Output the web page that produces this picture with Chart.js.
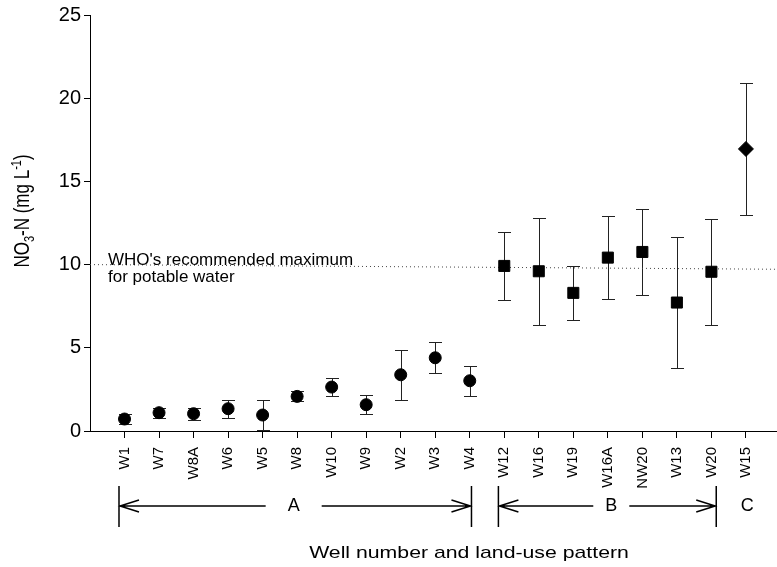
<!DOCTYPE html>
<html>
<head>
<meta charset="utf-8">
<script src="https://cdn.jsdelivr.net/npm/chart.js@4"></script>
<style>
  html, body { margin: 0; padding: 0; background: #fff; }
  canvas { display: block; }
</style>
</head>
<body>
<canvas id="wells" width="777" height="567"></canvas>
<script>
// Wells in plotting order
const wells = ['W1', 'W7', 'W8A', 'W6', 'W5', 'W8', 'W10', 'W9', 'W2', 'W3', 'W4',
               'W12', 'W16', 'W19', 'W16A', 'NW20', 'W13', 'W20', 'W15'];

// NO3-N means and +/- error per land-use group (mg/L)
const meanA = [0.72, 1.1, 1.04, 1.34, 0.96, 2.08, 2.64, 1.58, 3.38, 4.4, 3.02];
const errA  = [0.3, 0.3, 0.37, 0.55, 0.9, 0.3, 0.53, 0.58, 1.5, 0.93, 0.9];
const meanB = [9.92, 9.6, 8.3, 10.42, 10.76, 7.72, 9.57];
const errB  = [2.05, 3.2, 1.63, 2.5, 2.57, 3.93, 3.19];
const meanC = [16.95];
const errC  = [3.95];

// WHO guideline line ends
const whoLine = [10, 9.72];

const yTicks = [0, 5, 10, 15, 20, 25];

const FONT = "'Liberation Sans', Arial, Helvetica, sans-serif";

function toPoints(values, start) {
  return values.map((v, i) => ({ x: start + i + 1, y: v }));
}

// error bars, annotations, group brackets and axis titles
const extras = {
  id: 'extras',
  beforeDatasetsDraw(chart) {
    const ctx = chart.ctx;
    const xs = chart.scales.x, ys = chart.scales.y;
    ctx.save();
    ctx.strokeStyle = '#222';
    ctx.lineWidth = 1;
    chart.data.datasets.forEach(ds => {
      if (!ds.errors) return;
      ds.data.forEach((p, i) => {
        const px = Math.round(xs.getPixelForValue(p.x)) + 0.5;
        const top = Math.round(ys.getPixelForValue(p.y + ds.errors[i])) + 0.5;
        const bot = Math.round(ys.getPixelForValue(p.y - ds.errors[i])) + 0.5;
        ctx.beginPath();
        ctx.moveTo(px, top); ctx.lineTo(px, bot);
        ctx.moveTo(px - 6.5, top); ctx.lineTo(px + 6.5, top);
        ctx.moveTo(px - 6.5, bot); ctx.lineTo(px + 6.5, bot);
        ctx.stroke();
      });
    });
    ctx.restore();
  },
  afterDraw(chart) {
    const ctx = chart.ctx;
    const xs = chart.scales.x;
    ctx.save();
    ctx.fillStyle = '#000';
    ctx.strokeStyle = '#000';
    ctx.lineWidth = 1.5;

    // guideline note
    ctx.font = '17px ' + FONT;
    ctx.textAlign = 'left';
    ctx.textBaseline = 'alphabetic';
    ctx.fillText("WHO's recommended maximum", 108, 265);
    ctx.fillText('for potable water', 108, 282);

    // y axis title with sub- and superscript
    ctx.translate(21, 211);
    ctx.rotate(-Math.PI / 2);
    ctx.scale(1, 1.25);
    const parts = [
      { t: 'NO', size: 17, dy: 0 },
      { t: '3', size: 11, dy: 4 },
      { t: '-N (mg L', size: 17, dy: 0 },
      { t: '-1', size: 11, dy: -6 },
      { t: ')', size: 17, dy: 0 }
    ];
    let total = 0;
    parts.forEach(p => { ctx.font = p.size + 'px ' + FONT; p.w = ctx.measureText(p.t).width; total += p.w; });
    let cx = -total / 2;
    parts.forEach(p => {
      ctx.font = p.size + 'px ' + FONT;
      ctx.fillText(p.t, cx, 6 + p.dy);
      cx += p.w;
    });
    ctx.setTransform(1, 0, 0, 1, 0, 0);

    // land-use brackets
    const brackets = [
      { label: 'A', from: 0.84, to: 11.05, at: 5.9, gap: 28, arrows: true },
      { label: 'B', from: 11.83, to: 18.14, at: 15.1, gap: 18, arrows: true },
      { label: 'C', at: 19.04, arrows: false }
    ];
    const lineTop = 486, lineBot = 527, arrowY = 506;
    ctx.font = '18px ' + FONT;
    ctx.textAlign = 'center';
    ctx.textBaseline = 'middle';
    brackets.forEach(b => {
      const mid = xs.getPixelForValue(b.at);
      ctx.fillText(b.label, mid, arrowY);
      if (!b.arrows) return;
      const l = xs.getPixelForValue(b.from), r = xs.getPixelForValue(b.to);
      ctx.beginPath();
      ctx.moveTo(l, lineTop); ctx.lineTo(l, lineBot);
      ctx.moveTo(r, lineTop); ctx.lineTo(r, lineBot);
      ctx.moveTo(l, arrowY); ctx.lineTo(mid - b.gap, arrowY);
      ctx.moveTo(mid + b.gap, arrowY); ctx.lineTo(r, arrowY);
      // open arrow heads
      ctx.moveTo(l + 20, arrowY - 6); ctx.lineTo(l + 1, arrowY); ctx.lineTo(l + 20, arrowY + 6);
      ctx.moveTo(r - 20, arrowY - 6); ctx.lineTo(r - 1, arrowY); ctx.lineTo(r - 20, arrowY + 6);
      ctx.stroke();
    });

    // x axis title, slightly widened
    ctx.translate(469, 553);
    ctx.scale(1.25, 1);
    ctx.font = '17px ' + FONT;
    ctx.fillText('Well number and land-use pattern', 0, 0);
    ctx.restore();
  }
};

const marker = {
  backgroundColor: '#000',
  borderColor: '#000',
  borderWidth: 1,
  showLine: false
};

new Chart(document.getElementById('wells'), {
  type: 'scatter',
  data: {
    datasets: [
      { ...marker, label: 'A', data: toPoints(meanA, 0), errors: errA, pointStyle: 'circle', pointRadius: 6 },
      { ...marker, label: 'B', data: toPoints(meanB, meanA.length), errors: errB, pointStyle: 'rect', pointRadius: 7.8 },
      { ...marker, label: 'C', data: toPoints(meanC, meanA.length + meanB.length), errors: errC, pointStyle: 'rectRot', pointRadius: 7.5 },
      {
        label: 'WHO', data: [{ x: 0, y: whoLine[0] }, { x: 19.9, y: whoLine[1] }],
        showLine: true, borderColor: '#444', borderWidth: 1, borderDash: [1, 3],
        pointRadius: 0, fill: false
      }
    ]
  },
  options: {
    responsive: false,
    animation: false,
    events: [],
    layout: { autoPadding: false, padding: { top: 15, right: 0, bottom: 0, left: 0 } },
    plugins: { legend: { display: false }, tooltip: { enabled: false } },
    scales: {
      x: {
        type: 'linear',
        min: 0,
        max: 19.9,
        afterBuildTicks: s => { s.ticks = wells.map((w, i) => ({ value: i + 1 })); },
        afterFit: s => { s.height = 136; s.paddingLeft = 0; s.paddingRight = 0; },
        grid: { drawOnChartArea: false, drawTicks: true, tickLength: 7, color: '#000' },
        border: { color: '#000', width: 1 },
        ticks: {
          autoSkip: false,
          minRotation: 90,
          maxRotation: 90,
          padding: 9,
          color: '#000',
          font: { family: FONT, size: 15 },
          callback: v => wells[v - 1] || ''
        }
      },
      y: {
        min: 0,
        max: 25,
        afterBuildTicks: s => { s.ticks = yTicks.map(v => ({ value: v })); },
        afterFit: s => { s.width = 90; },
        grid: { drawOnChartArea: false, drawTicks: true, tickLength: 6, color: '#000' },
        border: { color: '#000', width: 1 },
        ticks: {
          padding: 3,
          color: '#000',
          font: { family: FONT, size: 20 }
        }
      }
    }
  },
  plugins: [extras]
});
</script>
</body>
</html>
